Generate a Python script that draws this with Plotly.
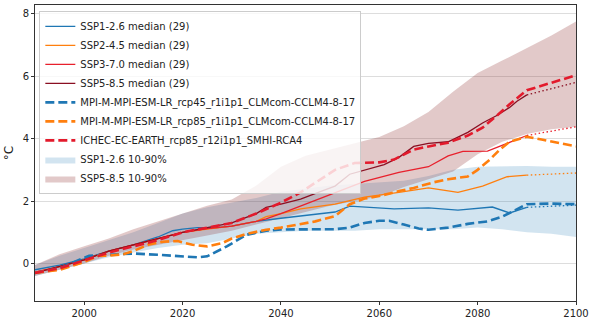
import plotly.graph_objects as go

# ---------------- data ----------------
band_years = [1990, 1995, 2000, 2005, 2010, 2015, 2020, 2025, 2030, 2035, 2040, 2045,
              2050, 2055, 2060, 2065, 2070, 2075, 2080, 2085, 2090, 2095, 2100]
ssp126_lo = [-0.4, -0.2, 0.0, 0.2, 0.35, 0.5, 0.6, 0.65, 0.8, 0.95, 1.0, 1.05,
             1.05, 1.05, 1.1, 1.1, 1.1, 1.1, 1.15, 1.1, 1.0, 0.95, 0.85]
ssp126_hi = [-0.05, 0.25, 0.5, 0.75, 1.0, 1.3, 1.6, 1.8, 1.95, 2.1, 2.3, 2.4,
             2.5, 2.55, 2.6, 2.65, 2.8, 3.0, 3.1, 3.12, 3.12, 3.1, 3.1]
ssp585_lo = [-0.4, -0.2, 0.0, 0.25, 0.45, 0.6, 0.75, 0.9, 1.05, 1.25, 1.45, 1.65,
             1.85, 2.0, 2.15, 2.45, 2.7, 2.95, 3.5, 3.9, 4.15, 4.3, 4.38]
ssp585_hi = [-0.05, 0.3, 0.55, 0.8, 1.1, 1.35, 1.6, 1.85, 2.05, 2.5, 3.1, 3.45,
             3.65, 3.85, 4.05, 4.4, 4.85, 5.5, 6.1, 6.5, 6.9, 7.3, 7.75]

ssp126_yr = [1990, 1995, 2000, 2005, 2010, 2015, 2018, 2020, 2023, 2027, 2030, 2035, 2040,
             2044, 2051, 2054, 2058, 2063, 2070, 2076, 2083, 2086.5, 2090]
ssp126_med = [-0.2, -0.05, 0.15, 0.4, 0.6, 0.85, 1.05, 1.1, 1.15, 1.15, 1.2, 1.35, 1.45,
              1.52, 1.65, 1.84, 1.8, 1.75, 1.78, 1.71, 1.81, 1.62, 1.8]
ssp126_tail = [1.8, 1.87]

ssp245_yr = [1990, 1995, 2000, 2005, 2010, 2015, 2020, 2025, 2030, 2035, 2037, 2040,
             2044, 2051, 2057, 2064, 2070, 2073, 2076, 2081, 2086, 2090]
ssp245_med = [-0.28, -0.1, 0.12, 0.4, 0.6, 0.8, 1.0, 1.1, 1.2, 1.35, 1.5, 1.6,
              1.75, 1.9, 2.13, 2.28, 2.42, 2.35, 2.28, 2.48, 2.78, 2.83]
ssp245_tail = [2.83, 2.9]

ssp370_yr = [1990, 1995, 2000, 2005, 2010, 2015, 2020, 2025, 2030, 2035, 2037, 2040,
             2044, 2051, 2057, 2064, 2070, 2074, 2077, 2082, 2086, 2090]
ssp370_med = [-0.28, -0.1, 0.12, 0.4, 0.6, 0.8, 1.0, 1.12, 1.2, 1.35, 1.43, 1.6,
              1.84, 2.28, 2.63, 2.92, 3.1, 3.45, 3.59, 3.6, 3.85, 4.1]
ssp370_tail = [4.1, 4.38]

ssp585_yr = [1990, 1995, 2000, 2005, 2010, 2015, 2020, 2025, 2030, 2035, 2037, 2040,
             2044, 2048, 2051, 2054, 2057, 2061, 2064, 2067, 2070, 2074, 2078, 2081,
             2084, 2086.5, 2088, 2090]
ssp585_med = [-0.3, -0.1, 0.12, 0.4, 0.6, 0.8, 1.0, 1.15, 1.3, 1.6, 1.8, 1.9,
              2.06, 2.3, 2.48, 2.86, 3.0, 3.17, 3.4, 3.75, 3.85, 3.9, 4.2, 4.5,
              4.75, 5.0, 5.2, 5.4]
ssp585_tail = [5.4, 5.8]
tail_years = [2090, 2100]

mpi45_yr = [1990, 1995, 1998, 2001, 2005, 2010, 2015, 2020, 2023, 2025, 2027, 2029, 2033,
            2037, 2040, 2044, 2051, 2054, 2057, 2060, 2062, 2065, 2068, 2070, 2074,
            2078, 2082, 2085, 2088, 2090, 2095, 2100]
mpi45_val = [-0.3, -0.15, 0.05, 0.25, 0.28, 0.32, 0.28, 0.22, 0.2, 0.23, 0.4, 0.55, 0.92,
             1.05, 1.09, 1.1, 1.1, 1.15, 1.3, 1.37, 1.37, 1.25, 1.12, 1.08, 1.15,
             1.27, 1.35, 1.5, 1.75, 1.9, 1.92, 1.9]

mpi85_yr = [1990, 1995, 2000, 2003, 2005, 2008, 2010, 2013, 2016, 2019, 2022, 2025, 2028,
            2030, 2033, 2037, 2040, 2044, 2047, 2051, 2054, 2057, 2060, 2064, 2067,
            2071, 2074, 2078, 2080, 2082.5, 2084.5, 2086.5, 2090, 2093, 2100]
mpi85_val = [-0.3, -0.2, 0.05, 0.25, 0.25, 0.3, 0.4, 0.6, 0.7, 0.72, 0.6, 0.55, 0.65,
             0.8, 0.95, 1.08, 1.15, 1.27, 1.35, 1.52, 1.9, 2.08, 2.16, 2.32, 2.42,
             2.6, 2.7, 2.79, 3.0, 3.33, 3.65, 3.9, 4.06, 3.97, 3.75]

ichec_yr = [1990, 1995, 2000, 2005, 2010, 2015, 2020, 2025, 2030, 2035, 2040, 2044,
            2048, 2051, 2055, 2060, 2063, 2067, 2070, 2074, 2078, 2081, 2084, 2086.5,
            2090, 2095, 2100]
ichec_val = [-0.3, -0.15, 0.1, 0.35, 0.55, 0.75, 1.0, 1.15, 1.3, 1.6, 1.95, 2.28,
             2.7, 3.0, 3.22, 3.24, 3.33, 3.65, 3.75, 3.87, 4.1, 4.35, 4.75, 5.1,
             5.55, 5.8, 6.03]

x_ticks = [2000, 2020, 2040, 2060, 2080, 2100]
y_ticks = [0, 2, 4, 6, 8]

# ---------------- styles ----------------
C126 = "#1f77b4"
C245 = "#ff7f0e"
C370 = "#e8202c"
C585 = "#8a0f22"
CICH = "#e31a2c"
FONT = "DejaVu Sans"

fig = go.Figure()


def band(years, lo, hi, color, name, rank):
    fig.add_trace(go.Scatter(
        x=list(years) + list(years)[::-1],
        y=list(hi) + list(lo)[::-1],
        fill="toself", fillcolor=color, mode="lines",
        line=dict(width=0, color=color), name=name, legendrank=rank,
        hoverinfo="skip"))


band(band_years, ssp126_lo, ssp126_hi, "rgba(31,119,180,0.2)", "SSP1-2.6 10-90%", 8)
band(band_years, ssp585_lo, ssp585_hi, "rgba(140,40,40,0.25)", "SSP5-8.5 10-90%", 9)


def median(years, vals, tail, color, name, rank):
    fig.add_trace(go.Scatter(x=years, y=vals, mode="lines", name=name,
                             line=dict(color=color, width=1.3), legendrank=rank))
    fig.add_trace(go.Scatter(x=tail_years, y=tail, mode="lines", showlegend=False,
                             line=dict(color=color, width=1.3, dash="1.5px,2.5px")))


median(ssp126_yr, ssp126_med, ssp126_tail, C126, "SSP1-2.6 median (29)", 1)
median(ssp245_yr, ssp245_med, ssp245_tail, C245, "SSP2-4.5 median (29)", 2)
median(ssp370_yr, ssp370_med, ssp370_tail, C370, "SSP3-7.0 median (29)", 3)
median(ssp585_yr, ssp585_med, ssp585_tail, C585, "SSP5-8.5 median (29)", 4)

DASH = "9px,4px"
fig.add_trace(go.Scatter(x=mpi45_yr, y=mpi45_val, mode="lines", legendrank=5,
                         name="MPI-M-MPI-ESM-LR_rcp45_r1i1p1_CLMcom-CCLM4-8-17",
                         line=dict(color=C126, width=2.6, dash=DASH)))
fig.add_trace(go.Scatter(x=mpi85_yr, y=mpi85_val, mode="lines", legendrank=6,
                         name="MPI-M-MPI-ESM-LR_rcp85_r1i1p1_CLMcom-CCLM4-8-17",
                         line=dict(color=C245, width=2.6, dash=DASH)))
fig.add_trace(go.Scatter(x=ichec_yr, y=ichec_val, mode="lines", legendrank=7,
                         name="ICHEC-EC-EARTH_rcp85_r12i1p1_SMHI-RCA4",
                         line=dict(color=CICH, width=2.6, dash=DASH)))

fig.update_layout(
    width=593, height=323,
    margin=dict(l=35, r=12, t=4, b=20),
    paper_bgcolor="white", plot_bgcolor="white",
    font=dict(family=FONT, size=10, color="#222"),
    showlegend=True,
    legend=dict(x=0.008, y=0.98, xanchor="left", yanchor="top",
                bgcolor="rgba(255,255,255,0.8)", bordercolor="#cccccc", borderwidth=1,
                font=dict(family=FONT, size=10, color="#222"),
                tracegroupgap=0, itemwidth=30),
)
fig.update_xaxes(range=[1990, 2100], tickvals=x_ticks, showgrid=False,
                 showline=True, linecolor="#333", linewidth=1, mirror=True,
                 ticks="outside", ticklen=3, tickcolor="#333", zeroline=False,
                 ticklabeloverflow="allow")
fig.update_yaxes(range=[-1.2, 8.28], tickvals=y_ticks, showgrid=True,
                 gridcolor="#dddddd", gridwidth=1,
                 showline=True, linecolor="#333", linewidth=1, mirror=True,
                 ticks="outside", ticklen=3, tickcolor="#333", zeroline=False,
                 ticklabeloverflow="allow",
                 title=dict(text="°C", standoff=6))

fig.write_html("out.html")
